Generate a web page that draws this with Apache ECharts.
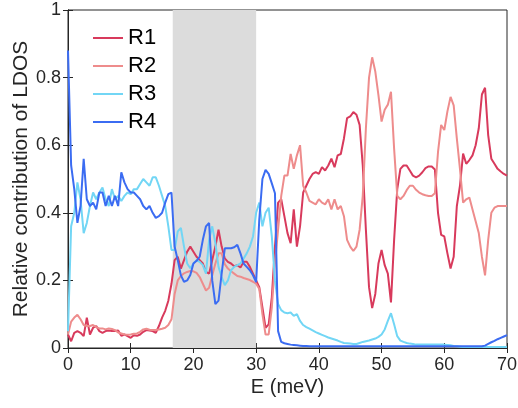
<!DOCTYPE html>
<html><head><meta charset="utf-8">
<script src="https://cdn.jsdelivr.net/npm/echarts@6/dist/echarts.min.js"></script>
<style>html,body{margin:0;padding:0;background:#fff}#c{width:518px;height:408px}</style>
</head><body><div id="c"></div>
<script>
const energies = [0,0.5,1,1.5,2,2.5,3,3.5,4,4.5,5,5.5,6,6.5,7,7.5,8,8.5,9,9.5,10,10.5,11,11.5,12,12.5,13,13.5,14,14.5,15,15.5,16,16.5,17,17.5,18,18.5,19,19.5,20,20.5,21,21.5,22,22.5,23,23.5,24,24.5,25,25.5,26,26.5,27,27.5,28,28.5,29,29.5,30,30.5,31,31.5,32,32.5,33,33.5,34,34.5,35,35.5,36,36.5,37,37.5,38,38.5,39,39.5,40,40.5,41,41.5,42,42.5,43,43.5,44,44.5,45,45.5,46,46.5,47,47.5,48,48.5,49,49.5,50,50.5,51,51.5,52,52.5,53,53.5,54,54.5,55,55.5,56,56.5,57,57.5,58,58.5,59,59.5,60,60.5,61,61.5,62,62.5,63,63.5,64,64.5,65,65.5,66,66.5,67,67.5,68,68.5,69,69.5,70];

const R1 = [
0.04,0.02,0.045,0.05,0.045,0.035,0.09,0.04,0.06,0.065,
0.05,0.045,0.05,0.052,0.05,0.05,0.052,0.036,0.04,0.035,
0.03,0.038,0.036,0.04,0.048,0.053,0.052,0.05,0.045,0.065,
0.09,0.11,0.14,0.19,0.26,0.27,0.235,0.26,0.285,0.30,
0.285,0.27,0.26,0.25,0.225,0.22,0.26,0.30,0.35,0.30,
0.265,0.255,0.25,0.242,0.245,0.238,0.255,0.255,0.24,0.22,
0.20,0.18,0.12,0.06,0.07,0.15,0.30,0.43,0.44,0.39,
0.34,0.31,0.41,0.30,0.36,0.46,0.48,0.50,0.515,0.52,
0.515,0.535,0.525,0.54,0.56,0.535,0.57,0.574,0.62,0.68,
0.685,0.698,0.69,0.66,0.54,0.35,0.18,0.118,0.16,0.25,
0.29,0.245,0.22,0.135,0.32,0.47,0.53,0.54,0.54,0.525,
0.51,0.505,0.51,0.52,0.532,0.537,0.537,0.528,0.40,0.335,
0.33,0.28,0.235,0.27,0.42,0.48,0.575,0.545,0.556,0.57,
0.60,0.65,0.75,0.77,0.63,0.56,0.545,0.53,0.522,0.515,
0.51];

const R2 = [
0.04,0.078,0.09,0.098,0.085,0.068,0.065,0.065,0.068,0.062,
0.058,0.058,0.055,0.058,0.056,0.053,0.046,0.043,0.04,0.039,
0.04,0.042,0.043,0.048,0.055,0.057,0.054,0.053,0.053,0.055,
0.057,0.06,0.068,0.085,0.16,0.20,0.213,0.221,0.225,0.228,
0.227,0.222,0.21,0.19,0.17,0.178,0.215,0.25,0.28,0.28,
0.248,0.235,0.227,0.22,0.213,0.211,0.207,0.204,0.201,0.196,
0.19,0.175,0.10,0.04,0.04,0.12,0.25,0.35,0.45,0.51,
0.51,0.574,0.53,0.57,0.60,0.48,0.46,0.435,0.43,0.425,
0.44,0.43,0.425,0.44,0.41,0.44,0.41,0.42,0.39,0.32,
0.30,0.287,0.30,0.35,0.45,0.65,0.80,0.86,0.818,0.748,
0.67,0.705,0.72,0.758,0.59,0.45,0.44,0.45,0.467,0.48,
0.48,0.468,0.46,0.455,0.452,0.45,0.45,0.458,0.58,0.66,
0.645,0.70,0.743,0.718,0.62,0.53,0.43,0.44,0.445,0.41,
0.375,0.34,0.27,0.215,0.32,0.40,0.415,0.42,0.42,0.42,
0.42];

const R3 = [
0.05,0.36,0.40,0.49,0.44,0.34,0.37,0.42,0.46,0.44,
0.46,0.475,0.44,0.42,0.47,0.44,0.45,0.435,0.45,0.46,
0.455,0.47,0.47,0.485,0.50,0.49,0.48,0.505,0.505,0.48,
0.45,0.42,0.36,0.29,0.29,0.345,0.355,0.30,0.25,0.236,
0.25,0.26,0.255,0.245,0.22,0.32,0.36,0.31,0.24,0.21,
0.186,0.20,0.23,0.24,0.245,0.25,0.265,0.28,0.30,0.33,
0.40,0.43,0.36,0.40,0.415,0.33,0.20,0.13,0.112,0.105,
0.103,0.105,0.095,0.10,0.08,0.068,0.062,0.057,0.052,0.047,
0.043,0.039,0.035,0.031,0.028,0.025,0.022,0.018,0.015,0.014,
0.013,0.012,0.012,0.015,0.018,0.02,0.022,0.025,0.028,0.033,
0.04,0.055,0.08,0.103,0.07,0.035,0.022,0.018,0.015,0.013,
0.012,0.01,0.01,0.01,0.01,0.01,0.01,0.01,0.01,0.01,
0.01,0.009,0.008,0.006,0.005,0.004,0.003,0.003,0.003,0.003,
0.003,0.003,0.003,0.003,0.003,0.003,0.003,0.003,0.003,0.003,
0.003];

const R4 = [
0.88,0.54,0.47,0.37,0.42,0.56,0.44,0.42,0.43,0.41,
0.46,0.46,0.42,0.45,0.42,0.45,0.42,0.52,0.49,0.47,
0.46,0.46,0.45,0.44,0.42,0.41,0.42,0.40,0.385,0.39,
0.40,0.43,0.455,0.46,0.30,0.26,0.215,0.196,0.20,0.216,
0.25,0.258,0.27,0.32,0.36,0.37,0.20,0.13,0.14,0.22,
0.295,0.295,0.295,0.298,0.305,0.28,0.25,0.24,0.23,0.215,
0.195,0.38,0.50,0.527,0.515,0.487,0.458,0.05,0.018,0.014,
0.012,0.01,0.009,0.008,0.007,0.006,0.006,0.005,0.005,0.005,
0.005,0.005,0.005,0.005,0.005,0.005,0.005,0.005,0.005,0.005,
0.005,0.005,0.005,0.005,0.005,0.005,0.005,0.005,0.005,0.005,
0.005,0.005,0.005,0.005,0.005,0.005,0.005,0.005,0.005,0.005,
0.005,0.005,0.005,0.005,0.005,0.005,0.005,0.005,0.005,0.005,
0.005,0.005,0.005,0.005,0.005,0.005,0.005,0.005,0.005,0.005,
0.005,0.005,0.005,0.007,0.012,0.017,0.021,0.026,0.03,0.034,
0.038];

const bandRange = [16.7, 30];
const seriesNames = ['R1','R2','R3','R4'];
const seriesColors = ['#D83A5C','#EE8C8C','#72D6F5','#3B6CF2'];
const xTicks = [0,10,20,30,40,50,60,70];
const yTicks = [0,0.2,0.4,0.6,0.8,1];

const valuesList = [R1,R2,R3,R4];
const FONT = 'Liberation Sans';
const chart = echarts.init(document.getElementById('c'), null, {renderer:'canvas'});

const axCol = '#262626';
const series = [{
  type:'line', data:[], z:1, silent:true,
  markArea:{silent:true, itemStyle:{color:'#DCDCDC', opacity:1},
    data:[[{xAxis:bandRange[0]},{xAxis:bandRange[1]}]]}
}];
seriesNames.forEach((n,i)=>{
  series.push({
    name:n, type:'line', z:2+i, showSymbol:false, symbol:'none',
    lineStyle:{width:2, color:seriesColors[i]}, itemStyle:{color:seriesColors[i]},
    data: energies.map((e,k)=>[e, valuesList[i][k]])
  });
});

chart.setOption({
  animation:false,
  grid:{left:68, right:11, top:10, bottom:60, containLabel:false, outerBoundsMode:'none',
    show:true, borderColor:axCol, borderWidth:1, backgroundColor:'transparent'},
  legend:{data:seriesNames, orient:'vertical', left:93, top:27, padding:0, itemWidth:30, itemHeight:10, itemGap:6,
    icon:'path://M0,4 L30,4 L30,6 L0,6 Z',
    textStyle:{fontFamily:FONT, fontSize:22, color:'#000'}},
  xAxis:[{type:'value', min:0, max:70, interval:10, position:'bottom',
    name:'E (meV)', nameLocation:'middle', nameGap:29, nameMoveOverlap:false,
    nameTextStyle:{fontFamily:FONT, fontSize:20, color:axCol},
    axisLine:{show:true, lineStyle:{color:axCol}},
    axisTick:{show:true, inside:true, length:5, lineStyle:{color:axCol}},
    axisLabel:{fontFamily:FONT, fontSize:18, color:axCol, margin:8,
      formatter:v=>{const t=xTicks.find(a=>Math.abs(a-v)<1e-6); return t===undefined?'':String(t);}},
    splitLine:{show:false}},
   {type:'value', min:0, max:70, interval:10, position:'top',
    axisLine:{show:true, lineStyle:{color:axCol}},
    axisTick:{show:true, inside:true, length:5, lineStyle:{color:axCol}},
    axisLabel:{show:false}, splitLine:{show:false}}],
  yAxis:[{type:'value', min:0, max:1, interval:0.2, position:'left',
    name:'Relative contribution of LDOS', nameLocation:'middle', nameGap:36, nameMoveOverlap:false,
    nameTextStyle:{fontFamily:FONT, fontSize:21, color:axCol},
    axisLine:{show:true, lineStyle:{color:axCol}},
    axisTick:{show:true, inside:true, length:5, lineStyle:{color:axCol}},
    axisLabel:{fontFamily:FONT, fontSize:18, color:axCol, margin:7,
      formatter:v=>{const t=yTicks.find(a=>Math.abs(a-v)<1e-6); return t===undefined?'':String(t);}},
    splitLine:{show:false}},
   {type:'value', min:0, max:1, interval:0.2, position:'right',
    axisLine:{show:true, lineStyle:{color:axCol}},
    axisTick:{show:true, inside:true, length:5, lineStyle:{color:axCol}},
    axisLabel:{show:false}, splitLine:{show:false}}],
  series: series
});
</script></body></html>
